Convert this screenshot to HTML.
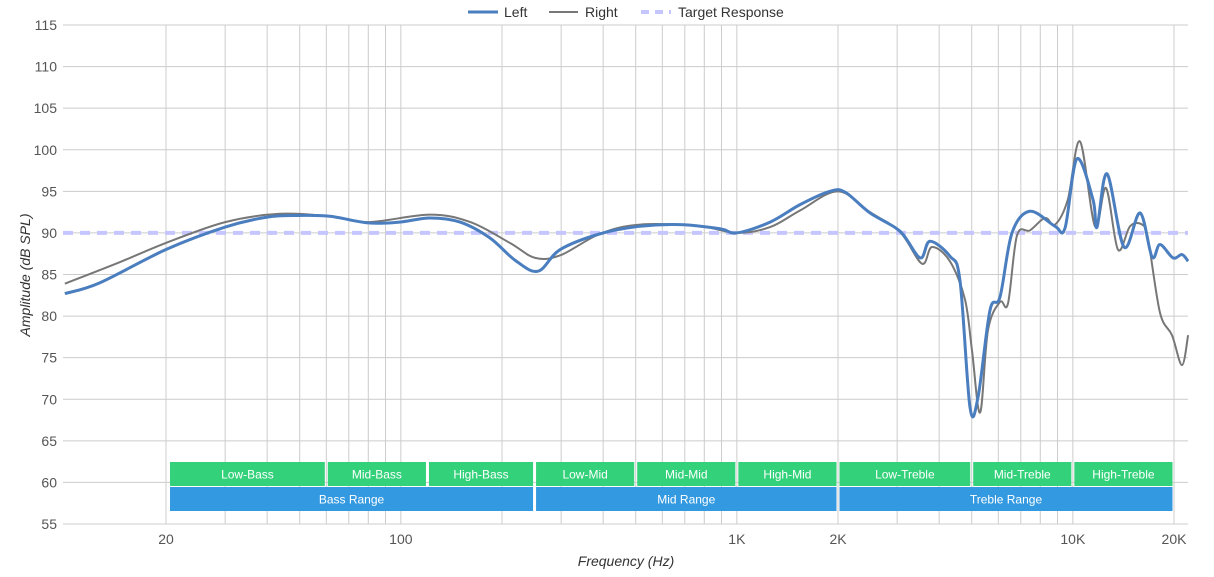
<!DOCTYPE html>
<html><head><meta charset="utf-8"><style>
body{margin:0;background:#fff;font-family:"Liberation Sans",sans-serif;}
svg{display:block}
</style></head><body>
<svg id="chart" width="1214" height="577">
<g id="grid"></g>
<g id="bands"></g>
<g id="series"></g>
<g id="axes"></g>
<g font-size="14" fill="#333">
  <g><line x1="468" y1="12" x2="498" y2="12" stroke="#4a7ebf" stroke-width="3"/><text x="504" y="17">Left</text></g>
  <g><line x1="549" y1="12" x2="578" y2="12" stroke="#777" stroke-width="2"/><text x="585" y="17">Right</text></g>
  <g><line x1="641" y1="12" x2="671" y2="12" stroke="#c5c5ff" stroke-width="4" stroke-dasharray="8,6"/><text x="678" y="17">Target Response</text></g>
</g>
<text transform="translate(30,275) rotate(-90)" text-anchor="middle" font-size="14" font-style="italic" fill="#333">Amplitude (dB SPL)</text>
<text x="626" y="566" text-anchor="middle" font-size="14" font-style="italic" fill="#333">Frequency (Hz)</text>
</svg>
<script>
const leftFreq=[10,12.7,20,30,40,50,61.5,80,99,122,150,184,219,256,298,392,515,678,891,1000,1256,1542,1892,2100,2490,3060,3510,3756,4305,4613,4943,5224,5667,6070,6590,7450,8850,9480,10280,11480,11800,12640,14200,15850,17210,18170,19870,21120,22030];
const leftDb=[82.7,84,88,90.7,91.9,92.1,92,91.2,91.3,91.8,91.3,89.4,86.7,85.4,88,89.9,90.8,91,90.5,90,91.3,93.4,95,94.9,92.4,90.2,87,89,87.2,84.3,69,70.3,80.7,82.3,90,92.6,90.8,90.6,98.9,94,90.7,97.1,88.3,92.4,87.1,88.6,87,87.4,86.6];
const rightFreq=[10,14.6,20,30,43.6,61.5,80,122,161,211,251,298,392,515,777,1000,1256,1542,2000,2490,3060,3556,3810,4305,4775,5012,5297,5590,6070,6410,6820,7450,8260,8850,9660,10500,11640,12550,13620,14800,16070,16750,18170,19730,21120,22030];
const rightDb=[83.9,86.5,88.8,91.3,92.3,92,91.3,92.2,91.3,88.8,87,87.3,89.9,91,90.8,90,90.7,92.7,95,92.5,90.1,86.3,88.3,86.6,82,75.8,68.4,78.3,81.7,81.5,89.7,90.3,91.8,91,94,101,90.8,95.4,88,90.8,91,89.2,80.4,77.7,74.1,77.7];
const targetDb=90;
const yTicks=[55,60,65,70,75,80,85,90,95,100,105,110,115];
const xTickVals=[20,100,1000,2000,10000,20000];
const xTickLabels=["20","100","1K","2K","10K","20K"];
const bandNames=["Low-Bass","Mid-Bass","High-Bass","Low-Mid","Mid-Mid","High-Mid","Low-Treble","Mid-Treble","High-Treble"];
const bandEdges=[20,60,120,250,500,1000,2000,5000,10000,20000];
const rangeNames=["Bass Range","Mid Range","Treble Range"];
const rangeEdges=[20,250,2000,20000];

const NS="http://www.w3.org/2000/svg";
const X0=63,X1=1188,Y0=25,Y1=524;
function xs(f){return 166+(Math.log10(f)-Math.log10(20))*336;}
function ys(d){return Y1-(d-55)*(Y1-Y0)/60;}
function mk(tag,attrs,parent){const e=document.createElementNS(NS,tag);for(const k in attrs)e.setAttribute(k,attrs[k]);parent.appendChild(e);return e;}
const grid=document.getElementById('grid'),axes=document.getElementById('axes'),bands=document.getElementById('bands'),series=document.getElementById('series');
yTicks.forEach(v=>{
  const l=mk('line',{x1:X0,x2:X1,y1:ys(v),y2:ys(v),stroke:'#ccc','stroke-width':1},grid);
  
  
  const t=mk('text',{x:57,y:ys(v)+5,'text-anchor':'end','font-size':14,fill:'#555'},axes);
  
  
  t.textContent=v;
});
const gridF=[];
for(let d=10;d<=10000;d*=10)for(let m=1;m<10;m++){const f=d*m;if(f>=20&&f<=20000)gridF.push(f);}
gridF.push(20000);
gridF.forEach(f=>{
  const l=mk('line',{x1:xs(f),x2:xs(f),y1:Y0,y2:Y1,stroke:'#ccc','stroke-width':1},grid);
  
  
});
xTickVals.forEach((f,i)=>{
  const t=mk('text',{x:xs(f),y:544,'text-anchor':'middle','font-size':14,fill:'#555'},axes);
  
  
  t.textContent=xTickLabels[i];
});
function band(names,edges,y,h,color,nm){
  names.forEach((n,i)=>{
    const a=xs(edges[i])+ (i==0?4:1.5),b=xs(edges[i+1])-1.5;
    const r=mk('rect',{x:a,y:y,width:b-a,height:h,fill:color},bands);
    
    
    const t=mk('text',{x:(a+b)/2,y:y+h/2+4.5,'text-anchor':'middle','font-size':12,fill:'#fff'},bands);
    
    
    t.textContent=n;
  });
}
band(bandNames,bandEdges,462,24,'#33d17a','band');
band(rangeNames,rangeEdges,487,24,'#3399e0','range');
const tl=mk('line',{x1:X0,x2:X1,y1:ys(targetDb),y2:ys(targetDb),stroke:'#c5c5ff','stroke-width':4,'stroke-dasharray':'10,7'},series);


function path(fr,db){
  const p=fr.map((f,i)=>[xs(f),ys(db[i])]);
  let d='M'+p[0][0]+','+p[0][1];
  for(let i=0;i<p.length-1;i++){
    const p0=p[i-1]||p[i],p1=p[i],p2=p[i+1],p3=p[i+2]||p2;
    const c1=[p1[0]+(p2[0]-p0[0])/6,p1[1]+(p2[1]-p0[1])/6];
    const c2=[p2[0]-(p3[0]-p1[0])/6,p2[1]-(p3[1]-p1[1])/6];
    d+=` C${c1[0]},${c1[1]} ${c2[0]},${c2[1]} ${p2[0]},${p2[1]}`;
  }
  return d;
}
const rp=mk('path',{d:path(rightFreq,rightDb),fill:'none',stroke:'#777','stroke-width':2},series);


const lp=mk('path',{d:path(leftFreq,leftDb),fill:'none',stroke:'#4a7ebf','stroke-width':3},series);


</script>
</body></html>
